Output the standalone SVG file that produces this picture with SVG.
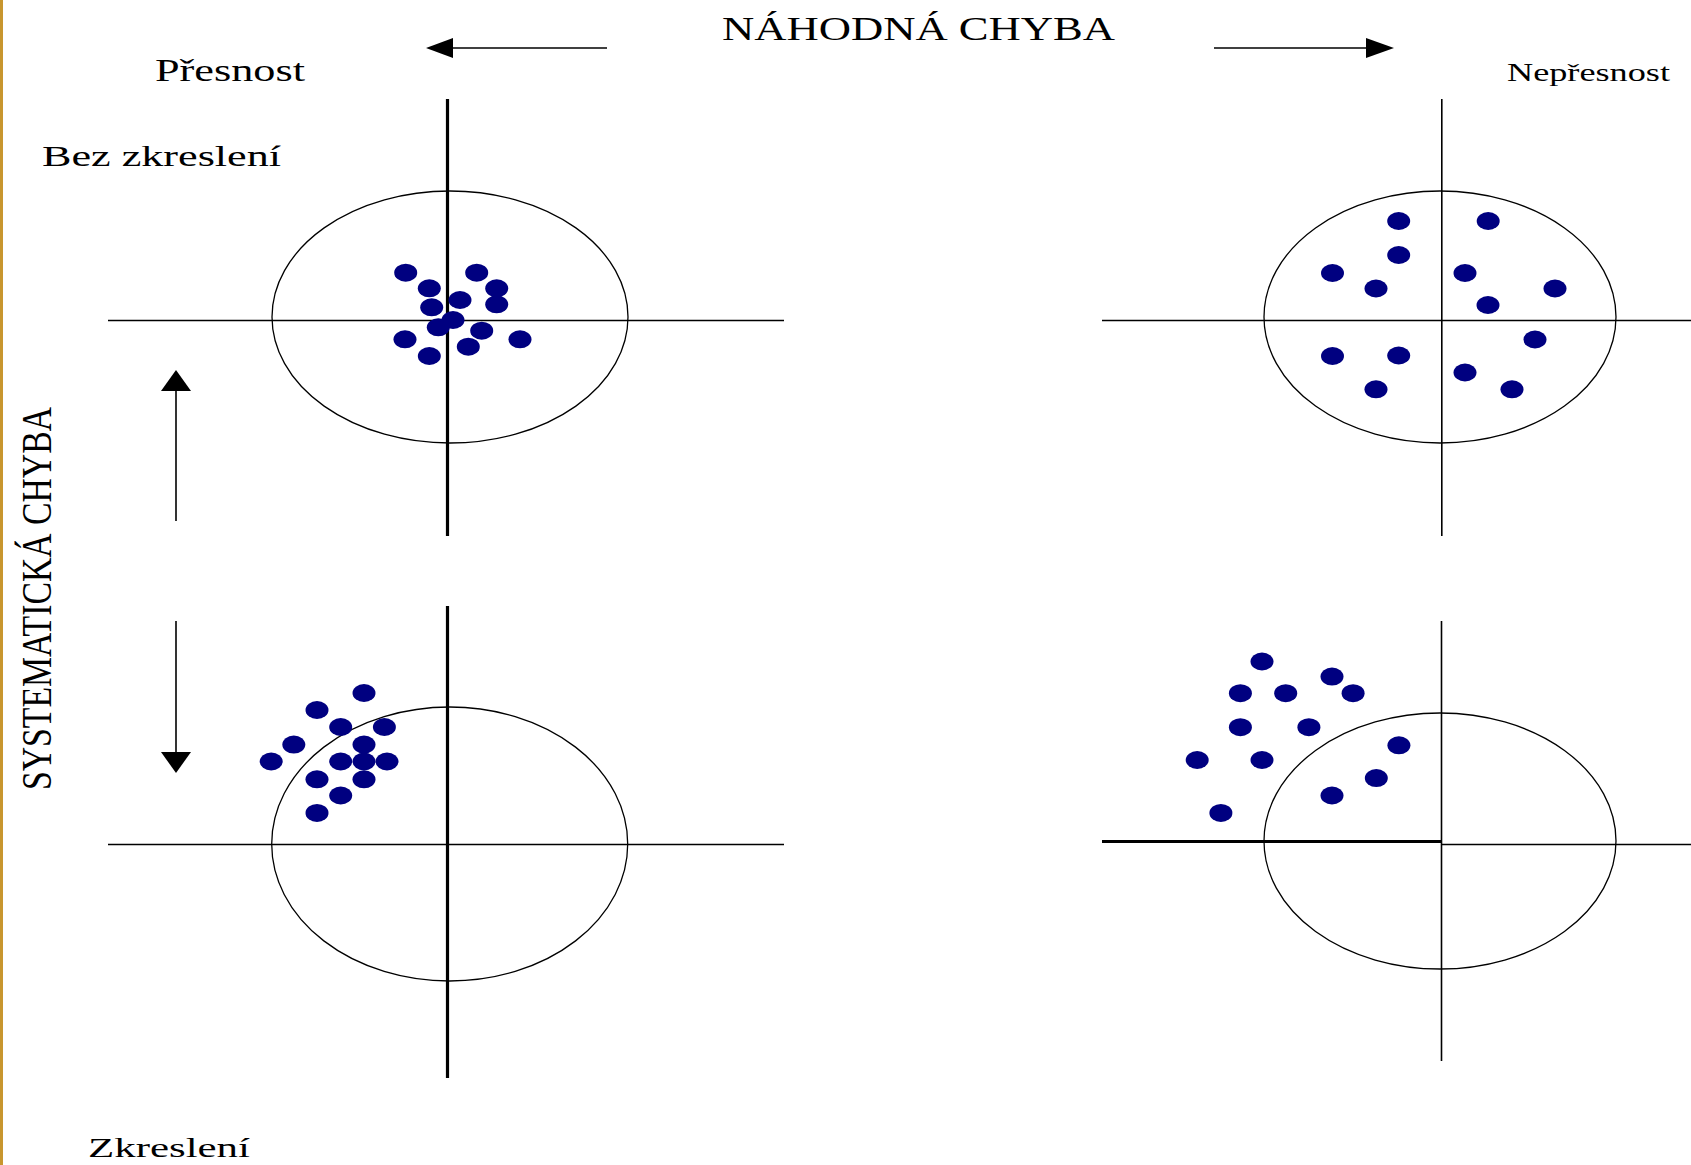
<svg xmlns="http://www.w3.org/2000/svg" width="1691" height="1165" viewBox="0 0 1691 1165">
<defs>
<style>
.t{font-family:"Liberation Serif","Times New Roman",serif;fill:#000}
.ax{stroke:#000;stroke-width:1.6;fill:none}
.axb{stroke:#000;stroke-width:3.2;fill:none}
.ring{stroke:#000;stroke-width:1.3;fill:none}
.d{fill:#000080}
.ar{stroke:#000;stroke-width:1.6;fill:none}
.hd{fill:#000}
</style>
</defs>
<rect width="1691" height="1165" fill="#fff"/>
<rect x="0" y="0" width="3" height="1165" fill="#c8962e"/>

<g id="labels">
<text class="t" x="722" y="39.5" font-size="33" textLength="393" lengthAdjust="spacingAndGlyphs">NÁHODNÁ CHYBA</text>
<text class="t" x="155" y="81" font-size="32" textLength="150" lengthAdjust="spacingAndGlyphs">Přesnost</text>
<text class="t" x="1507" y="80.5" font-size="26" textLength="163" lengthAdjust="spacingAndGlyphs">Nepřesnost</text>
<text class="t" x="42" y="166" font-size="30" textLength="239" lengthAdjust="spacingAndGlyphs">Bez zkreslení</text>
<text class="t" x="88" y="1157" font-size="28" textLength="162" lengthAdjust="spacingAndGlyphs">Zkreslení</text>
<text class="t" transform="translate(51,790) rotate(-90)" x="0" y="0" font-size="42" textLength="383" lengthAdjust="spacingAndGlyphs">SYSTEMATICKÁ CHYBA</text>
</g>

<g id="connectors">
<line class="ar" x1="607" y1="48" x2="450" y2="48"/>
<polygon class="hd" points="426,48 453,38 453,58"/>
<line class="ar" x1="1214" y1="48" x2="1368" y2="48"/>
<polygon class="hd" points="1394,48 1366,38 1366,58"/>
<line class="ar" x1="176" y1="521" x2="176" y2="388"/>
<polygon class="hd" points="176,370 161,391 191,391"/>
<line class="ar" x1="176" y1="621" x2="176" y2="755"/>
<polygon class="hd" points="176,773 161,752 191,752"/>
</g>

<g id="target-precise-unbiased">
<line class="axb" x1="447.5" y1="99" x2="447.5" y2="536"/>
<line class="ax" x1="108" y1="320.5" x2="784" y2="320.5"/>
<ellipse class="ring" cx="450" cy="317" rx="178" ry="126"/>
<g class="d">
<ellipse cx="405.7" cy="272.7" rx="11.5" ry="9"/>
<ellipse cx="476.7" cy="272.7" rx="11.5" ry="9"/>
<ellipse cx="429.3" cy="288.3" rx="11.5" ry="9"/>
<ellipse cx="496.7" cy="288.3" rx="11.5" ry="9"/>
<ellipse cx="460" cy="300" rx="11.5" ry="9"/>
<ellipse cx="431.7" cy="307.3" rx="11.5" ry="9"/>
<ellipse cx="496.7" cy="304.3" rx="11.5" ry="9"/>
<ellipse cx="453" cy="320" rx="11.5" ry="9"/>
<ellipse cx="438.3" cy="327.3" rx="11.5" ry="9"/>
<ellipse cx="481.7" cy="330.7" rx="11.5" ry="9"/>
<ellipse cx="405" cy="339.3" rx="11.5" ry="9"/>
<ellipse cx="520" cy="339.3" rx="11.5" ry="9"/>
<ellipse cx="468.3" cy="346.7" rx="11.5" ry="9"/>
<ellipse cx="429.3" cy="356" rx="11.5" ry="9"/>
</g>
</g>

<g id="target-imprecise-unbiased">
<line class="ax" x1="1441.8" y1="99" x2="1441.8" y2="536"/>
<line class="ax" x1="1102" y1="320.5" x2="1691" y2="320.5"/>
<ellipse class="ring" cx="1440" cy="317" rx="176" ry="126"/>
<g class="d">
<ellipse cx="1398.7" cy="221" rx="11.5" ry="9"/>
<ellipse cx="1488.2" cy="221" rx="11.5" ry="9"/>
<ellipse cx="1398.7" cy="255" rx="11.5" ry="9"/>
<ellipse cx="1332.5" cy="273" rx="11.5" ry="9"/>
<ellipse cx="1465" cy="273" rx="11.5" ry="9"/>
<ellipse cx="1376" cy="288.5" rx="11.5" ry="9"/>
<ellipse cx="1555" cy="288.5" rx="11.5" ry="9"/>
<ellipse cx="1488" cy="305" rx="11.5" ry="9"/>
<ellipse cx="1535" cy="339.5" rx="11.5" ry="9"/>
<ellipse cx="1332.5" cy="356" rx="11.5" ry="9"/>
<ellipse cx="1398.7" cy="355.5" rx="11.5" ry="9"/>
<ellipse cx="1465" cy="372.5" rx="11.5" ry="9"/>
<ellipse cx="1376" cy="389.3" rx="11.5" ry="9"/>
<ellipse cx="1512" cy="389.3" rx="11.5" ry="9"/>
</g>
</g>

<g id="target-precise-biased">
<line class="axb" x1="447.5" y1="606" x2="447.5" y2="1078"/>
<line class="ax" x1="108" y1="844.5" x2="784" y2="844.5"/>
<ellipse class="ring" cx="449.7" cy="844" rx="178" ry="137"/>
<g class="d">
<ellipse cx="364" cy="693" rx="11.5" ry="9"/>
<ellipse cx="317" cy="710" rx="11.5" ry="9"/>
<ellipse cx="340.7" cy="727" rx="11.5" ry="9"/>
<ellipse cx="384.4" cy="727" rx="11.5" ry="9"/>
<ellipse cx="293.8" cy="744.6" rx="11.5" ry="9"/>
<ellipse cx="364" cy="744.6" rx="11.5" ry="9"/>
<ellipse cx="271.2" cy="761.5" rx="11.5" ry="9"/>
<ellipse cx="340.7" cy="761.5" rx="11.5" ry="9"/>
<ellipse cx="364" cy="761.5" rx="11.5" ry="9"/>
<ellipse cx="387" cy="761.5" rx="11.5" ry="9"/>
<ellipse cx="317" cy="779.3" rx="11.5" ry="9"/>
<ellipse cx="364" cy="779.3" rx="11.5" ry="9"/>
<ellipse cx="340.7" cy="795.5" rx="11.5" ry="9"/>
<ellipse cx="317" cy="812.9" rx="11.5" ry="9"/>
</g>
</g>

<g id="target-imprecise-biased">
<line class="ax" x1="1441.5" y1="621" x2="1441.5" y2="1061"/>
<line class="axb" x1="1102" y1="841.5" x2="1441.5" y2="841.5"/>
<line class="ax" x1="1441.5" y1="844.5" x2="1691" y2="844.5"/>
<ellipse class="ring" cx="1440" cy="841" rx="176" ry="128"/>
<g class="d">
<ellipse cx="1262" cy="661.5" rx="11.5" ry="9"/>
<ellipse cx="1332" cy="676.6" rx="11.5" ry="9"/>
<ellipse cx="1240.4" cy="693.2" rx="11.5" ry="9"/>
<ellipse cx="1285.7" cy="693.2" rx="11.5" ry="9"/>
<ellipse cx="1353.1" cy="693.2" rx="11.5" ry="9"/>
<ellipse cx="1240.4" cy="727.2" rx="11.5" ry="9"/>
<ellipse cx="1308.9" cy="727.2" rx="11.5" ry="9"/>
<ellipse cx="1398.9" cy="745.3" rx="11.5" ry="9"/>
<ellipse cx="1197.2" cy="760" rx="11.5" ry="9"/>
<ellipse cx="1262" cy="760" rx="11.5" ry="9"/>
<ellipse cx="1376.3" cy="778.1" rx="11.5" ry="9"/>
<ellipse cx="1332" cy="795.5" rx="11.5" ry="9"/>
<ellipse cx="1220.9" cy="812.9" rx="11.5" ry="9"/>
</g>
</g>
</svg>
